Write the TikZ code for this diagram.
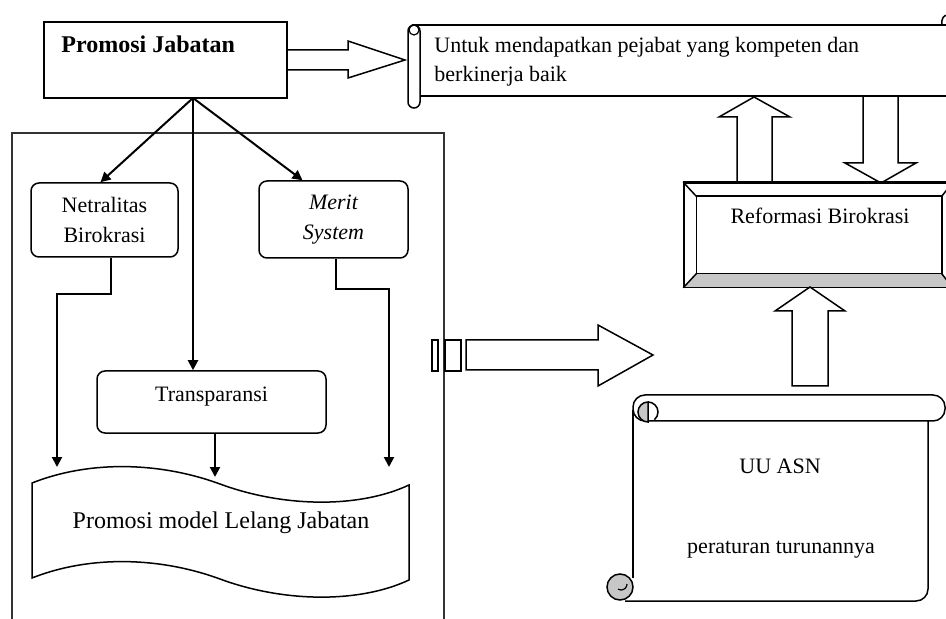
\documentclass[tikz,border=0pt]{standalone}
\usepackage{fontspec}
\setmainfont{Liberation Serif}
\usetikzlibrary{calc,arrows.meta}

\definecolor{curlgray}{gray}{0.78}

\tikzset{
  box/.style={draw, line width=0.75pt, inner sep=0pt},
  rbox/.style={box, rounded corners=4pt},
  arr/.style={line width=1pt, -{Triangle[length=5pt,width=5pt]}},
  fat/.style={draw, line width=0.75pt, line join=miter},
  txt/.style={font=\fontsize{11}{15}\selectfont, inner sep=0pt},
}

\begin{document}
\begin{tikzpicture}[x=0.5pt, y=-0.5pt]
\useasboundingbox (0,0) rectangle (946,619);

% Define coordinates
\coordinate (fork) at (193,98);
\coordinate (wleft) at (57,467);
\coordinate (wmid) at (215,477);
\coordinate (wright) at (389,467);

% Outer frame
\draw[line width=0.75pt, draw=black!80] (12,625) -- (12,133) -- (444,133) -- (444,625);

% Promosi Jabatan box
\node[box, minimum width=121.5pt, minimum height=38pt] (promosi) at (165.5,60) {};
\node[anchor=base west, inner sep=0pt, font=\fontsize{12}{14}\selectfont\bfseries] (promositxt) at (61,53) {Promosi Jabatan};

% Block arrow to the goal scroll
\draw[fat] (287,50) -- (348,50) -- (348,41) -- (405,60) -- (348,78) -- (348,70) -- (287,70);

% Goal scroll
\draw[line width=0.75pt] (412,25) -- (952,25);
\draw[line width=0.75pt] (420,96) -- (952,96);
\draw[line width=0.75pt, rounded corners=3pt, fill=white] (408,25) rectangle (420,108);
\draw[line width=0.6pt] (414,30) circle[radius=2.5pt];
\draw[line width=0.75pt] (942,25) .. controls (941,18) and (944,15) .. (948,15);
\node[txt, anchor=base west] (goal1) at (434,53) {Untuk mendapatkan pejabat yang kompeten dan};
\node[txt, anchor=base west] (goal2) at (434,82) {berkinerja baik};

% Principles
\node[rbox, txt, minimum width=73.5pt, minimum height=37pt, align=center] (netral) at (104.5,220) {Netralitas\\Birokrasi};
\node[rbox, txt, minimum width=74.5pt, minimum height=38.5pt, align=center, font=\fontsize{11}{15}\selectfont\itshape] (merit) at (333.5,219.5) {Merit\\System};
\node[rbox, minimum width=114.5pt, minimum height=31pt] (transp) at (211.5,402) {};
\node[txt, anchor=base] (transptxt) at ($(transp.north)+(0,31)$) {Transparansi};

% Arrows from Promosi Jabatan
\draw[arr] (fork) -- ($(netral.north)+(-4,0)$);
\draw[arr] (fork) -- ($(merit.north)+(-31,0)$);
\draw[arr] (fork) -- (fork |- transp.north);

% Arrows down to the wave
\draw[arr] ($(netral.south)+(6.5,0)$) -- ++(0,36) -| (wleft);
\draw[arr] ($(merit.south)+(2.5,0)$) -- ++(0,30) -| (wright);
\draw[arr] (transp.south -| wmid) -- (wmid);

% Wave: Promosi model Lelang Jabatan
\draw[line width=0.75pt] (32,483) .. controls (90,460) and (160,462) .. (220,484)
  .. controls (285,508) and (360,508) .. (409,485) -- (409,580)
  .. controls (360,603) and (285,603) .. (220,579)
  .. controls (160,557) and (90,555) .. (32,578) -- cycle;
\node[anchor=base, inner sep=0pt, font=\fontsize{12}{14}\selectfont] (lelang) at (221,528) {Promosi model Lelang Jabatan};

% Middle block arrow
\draw[fat] (432,340) rectangle (438,371);
\draw[fat] (445,340) rectangle (461,371);
\draw[fat] (466,340) -- (598,340) -- (598,325) -- (653,355) -- (598,386) -- (598,370) -- (466,370) -- cycle;

% Reformasi Birokrasi bevel box
\node[box, minimum width=134pt, minimum height=52pt] (reform) at (818,235) {};
\fill[curlgray] (reform.south west) -- ($(reform.south west)+(13,-14)$) -- ($(reform.south east)+(-11,-14)$) -- (reform.south east) -- cycle;
\draw[line width=0.75pt] (reform.south west) rectangle (reform.north east);
\draw[line width=0.75pt] ($(reform.north west)+(13,14)$) rectangle ($(reform.south east)+(-11,-14)$);
\draw[line width=0.75pt] (reform.north west) -- ++(13,14);
\draw[line width=0.75pt] (reform.south west) -- ++(13,-14);
\draw[line width=0.75pt] (reform.north east) -- ++(-11,14);
\draw[line width=0.75pt] (reform.south east) -- ++(-11,-14);
\node[txt, anchor=base] (reformtxt) at ($(reform.north)+(2,41)$) {Reformasi Birokrasi};

% Block arrows around Reformasi Birokrasi
\draw[fat] (737,183) -- (737,117) -- (719,117) -- (754,97) -- (790,117) -- (772,117) -- (772,183);
\draw[fat] (863,97) -- (863,163) -- (845,163) -- (881,183) -- (916,163) -- (898,163) -- (898,97);
\draw[fat] (792,386) -- (792,311) -- (775,311) -- (810,287) -- (845,311) -- (828,311) -- (828,386) -- cycle;

% UU ASN scroll
\draw[fat, rounded corners=6pt] (633,395) rectangle (945,421);
\draw[fat] (633,410) -- (633,578);
\draw[fat, rounded corners=6pt] (928,421) -- (928,601) -- (625,601);
\filldraw[line width=0.75pt, fill=curlgray] (648,422) arc[start angle=-90, end angle=-270, radius=5pt] -- cycle;
\draw[line width=0.75pt] (648,402) arc[start angle=90, end angle=-50, radius=5pt];
\filldraw[line width=0.75pt, fill=curlgray] (620,587) circle[radius=6.5pt];
\draw[line width=0.6pt] (627,584) arc[start angle=0, end angle=-120, radius=3pt];
\node[txt, anchor=base] (asn1) at (780,473) {UU ASN};
\node[txt, anchor=base] (asn2) at (781,553) {peraturan turunannya};

\end{tikzpicture}
\end{document}
